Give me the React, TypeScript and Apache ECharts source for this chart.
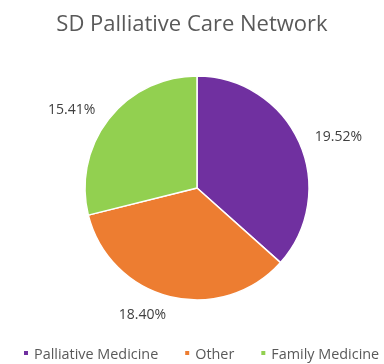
import React, { useEffect, useRef } from "react";
import * as echarts from "echarts";

const titleText = "SD Palliative Care Network";
const categories = ["Palliative Medicine", "Other", "Family Medicine"];
const values = [19.52, 18.4, 15.41];
const colors = ["#7030A0", "#ED7D31", "#92D050"];

export default function App() {
  const ref = useRef<HTMLDivElement>(null);
  useEffect(() => {
    const chart = echarts.init(ref.current!, undefined, { renderer: "svg" });
    chart.setOption({
      animation: false,
      title: {
        text: titleText,
        left: "center",
        top: 6,
        textStyle: { fontFamily: "Open Sans", fontSize: 22, fontWeight: "normal", color: "#595959" },
      },
      legend: {
        top: 346,
        left: 22,
        padding: 0,
        icon: "rect",
        itemWidth: 6,
        itemHeight: 6,
        itemGap: 25,
        textStyle: { fontFamily: "Open Sans", fontSize: 14.4, color: "#595959" },
        data: categories,
      },
      series: [
        {
          type: "pie",
          center: [197, 188],
          radius: 112,
          startAngle: 90,
          clockwise: true,
          data: categories.map((name, i) => ({ name, value: values[i], itemStyle: { color: colors[i] } })),
          itemStyle: { borderColor: "#fff", borderWidth: 1.5 },
          label: {
            show: true,
            position: "outside",
            formatter: (p: any) => p.value.toFixed(2) + "%",
            fontFamily: "Open Sans",
            fontSize: 14,
            color: "#404040",
            distanceToLabelLine: 0,
            overflow: "none",
          },
          labelLine: { show: false, length: 17, length2: 0 },
          emphasis: { disabled: true },
        },
      ],
    });
    return () => chart.dispose();
  }, []);
  return <div ref={ref} style={{ position: "fixed", left: 0, top: 0, width: 384, height: 364 }} />;
}
